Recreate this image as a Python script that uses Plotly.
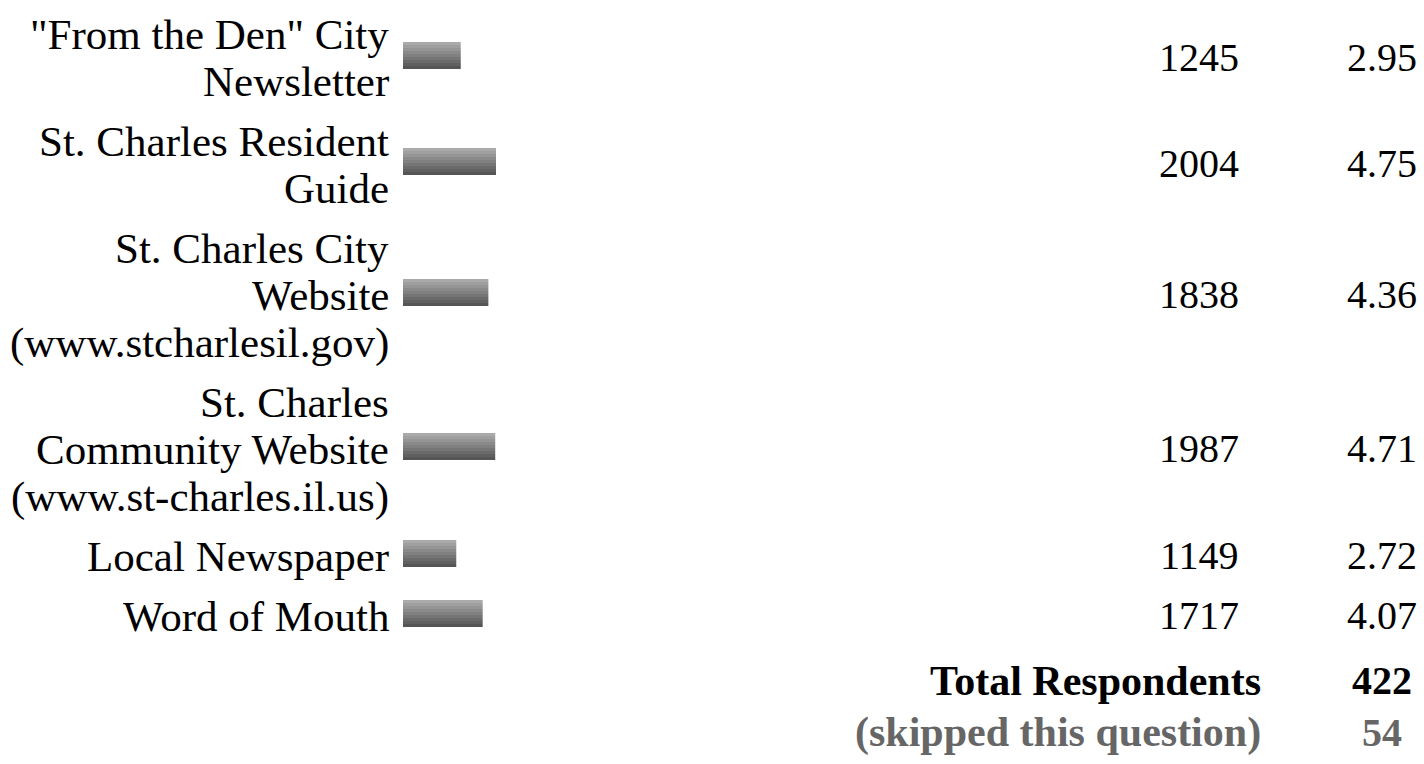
import plotly.graph_objects as go

# ---------------- data ----------------
labels = [
    '"From the Den" City<br>Newsletter',
    'St. Charles Resident<br>Guide',
    'St. Charles City<br>Website<br>(www.stcharlesil.gov)',
    'St. Charles<br>Community Website<br>(www.st-charles.il.us)',
    'Local Newspaper',
    'Word of Mouth',
]
rating_counts = [1245, 2004, 1838, 1987, 1149, 1717]
rating_averages = [2.95, 4.75, 4.36, 4.71, 2.72, 4.07]
total_label = "Total Respondents"
total_respondents = 422
skipped_label = "(skipped this question)"
skipped_count = 54

# ---------------- layout constants ----------------
W, H = 1424, 764
FONT = "Liberation Serif, Times New Roman, serif"
FS_TEXT = 43
FS_NUM = 40
FIRST_BASELINE = 46
LINE = 47
GAP = 13
CAP_MID = 13.5          # baseline -> visual middle of text
TEXT_DY = 2             # correction for plotly text box placement
LABEL_RIGHT = 391
BAR_LEFT = 403
PX_PER_UNIT = 19.58
BAR_H = 27
N_BANDS = 9
COUNT_X = 1199
AVG_X = 1382
TOTAL_RIGHT = 1263

# compute row geometry from number of label lines
row_lines = [lab.split("<br>") for lab in labels]
line_centers = []
row_centers = []
base = FIRST_BASELINE
for lines in row_lines:
    cs = []
    for _ in lines:
        cs.append(base - CAP_MID)
        base += LINE
    base += GAP
    line_centers.append(cs)
    row_centers.append(sum(cs) / len(cs))
total_center = base + 4 - CAP_MID
skipped_center = total_center + 52

fig = go.Figure()

# gradient bars: stacked bands sharing the same data values
def mix(c1, c2, t):
    return "#%02x%02x%02x" % tuple(int(round(a + (b - a) * t)) for a, b in zip(c1, c2))

top_c = (0xAA, 0xAA, 0xAA)
bot_c = (0x55, 0x55, 0x55)
band_h = BAR_H / N_BANDS
bar_tops = [round(c - 1 - BAR_H / 2) for c in row_centers]
bar_centers = [t + BAR_H / 2 for t in bar_tops]
for k in range(N_BANDS):
    t = k / (N_BANDS - 1)
    fig.add_trace(go.Bar(
        x=rating_averages,
        y=[top + (k + 0.5) * band_h for top in bar_tops],
        base=0,
        width=band_h,
        orientation="h",
        marker=dict(color=mix(top_c, bot_c, t), line=dict(width=0)),
        hoverinfo="skip",
        showlegend=False,
    ))

ann = []
for lines, cs in zip(row_lines, line_centers):
    for txt, cy in zip(lines, cs):
        ann.append(dict(x=LABEL_RIGHT / W, xref="paper", y=cy + TEXT_DY, yref="y",
                        text=txt, showarrow=False, xanchor="right", yanchor="middle",
                        font=dict(family=FONT, size=FS_TEXT, color="#000000")))
for cnt, avg, cy in zip(rating_counts, rating_averages, bar_centers):
    ann.append(dict(x=COUNT_X / W, xref="paper", y=cy + TEXT_DY, yref="y",
                    text=str(cnt), showarrow=False, xanchor="center", yanchor="middle",
                    font=dict(family=FONT, size=FS_NUM, color="#000000")))
    ann.append(dict(x=AVG_X / W, xref="paper", y=cy + TEXT_DY, yref="y",
                    text=f"{avg:.2f}", showarrow=False, xanchor="center", yanchor="middle",
                    font=dict(family=FONT, size=FS_NUM, color="#000000")))

for lab, val, cy, col in [(total_label, total_respondents, total_center, "#000000"),
                          (skipped_label, skipped_count, skipped_center, "#666666")]:
    ann.append(dict(x=TOTAL_RIGHT / W, xref="paper", y=cy + TEXT_DY, yref="y",
                    text=f"<b>{lab}</b>", showarrow=False, xanchor="right", yanchor="middle",
                    font=dict(family=FONT, size=FS_TEXT - 1, color=col)))
    ann.append(dict(x=AVG_X / W, xref="paper", y=cy + TEXT_DY, yref="y",
                    text=f"<b>{val}</b>", showarrow=False, xanchor="center", yanchor="middle",
                    font=dict(family=FONT, size=FS_NUM, color=col)))

fig.update_layout(
    width=W, height=H,
    margin=dict(l=0, r=0, t=0, b=0),
    paper_bgcolor="white", plot_bgcolor="white",
    barmode="overlay",
    xaxis=dict(domain=[BAR_LEFT / W, (BAR_LEFT + 5 * PX_PER_UNIT) / W], range=[0, 5],
               visible=False, fixedrange=True),
    yaxis=dict(domain=[0, 1], range=[H, 0], visible=False, fixedrange=True),
    annotations=ann,
    showlegend=False,
)

fig.write_html("out.html", config={"displayModeBar": False},
               post_script="document.body.style.margin='0';document.body.style.overflow='hidden';")
